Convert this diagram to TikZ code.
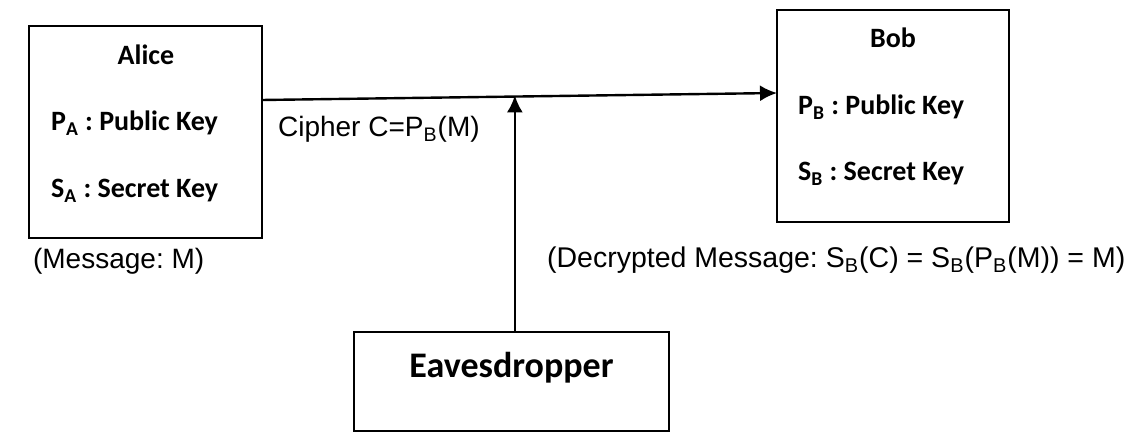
\documentclass[tikz,border=0pt]{standalone}
\usepackage{fontspec}
\setmainfont{Liberation Sans}
\newfontfamily\keyfont{Carlito}
\usetikzlibrary{arrows.meta,positioning}
\frenchspacing
\tikzset{font=\fontsize{14}{16}\selectfont}
\tikzset{every node/.append style={inner sep=0pt}}
\tikzset{party/.style={draw,line width=1.1pt}}
\tikzset{keytext/.style={anchor=base west,font=\keyfont\bfseries\fontsize{14}{16}\selectfont}}
\tikzset{msgarrow/.style={-{Latex[length=8.5pt,width=8pt]},line width=1.2pt}}

\begin{document}
\begin{tikzpicture}[x=0.5pt,y=-0.5pt,line width=1.1pt]
  \useasboundingbox (0,0) rectangle (1140,432);

  \node[party,minimum width=116.5pt,minimum height=106pt] (alice) at (145.5,132) {};
  \node[party,minimum width=116pt,minimum height=106pt] (bob) at (893,116) {};
  \node[party,minimum width=157.5pt,minimum height=49.5pt] (eve) at (511.5,381.5) {};

  \node[keytext,anchor=base] (aliceName) at (146,65) {Alice};
  \node[keytext] (alicePub) at (50,131) {P\textsubscript{A} : Public Key};
  \node[keytext] (aliceSec) at (50,198) {S\textsubscript{A} : Secret Key};

  \node[keytext,anchor=base] (bobName) at (893,48) {Bob};
  \node[keytext] (bobPub) at (797,115) {P\textsubscript{B} : Public Key};
  \node[keytext] (bobSec) at (797,181) {S\textsubscript{B} : Secret Key};

  \node[keytext,anchor=base,font=\keyfont\bfseries\fontsize{18}{20}\selectfont]
    (eveName) at (511.5,378) {Eavesdropper};

  \coordinate (sendA) at (262,100);
  \coordinate (recvB) at (777,93);
  \path (sendA) -- (recvB) coordinate[pos=0.491] (tap);

  \draw[msgarrow] (sendA)--(recvB);
  \draw[msgarrow] (eve.north -| tap)--([yshift=0.6pt]tap);

  \node[anchor=base west] (cipher) at (277,137) {Cipher C=P\textsubscript{B}(M)};
  \node[anchor=base west] (msg) at (32,269) {(Message: M)};
  \node[anchor=base west,font=\fontsize{14.25}{16}\selectfont] (decr) at (546,268)
    {(Decrypted Message: S\textsubscript{B}(C) = S\textsubscript{B}(P\textsubscript{B}(M)) = M)};

\end{tikzpicture}
\end{document}
